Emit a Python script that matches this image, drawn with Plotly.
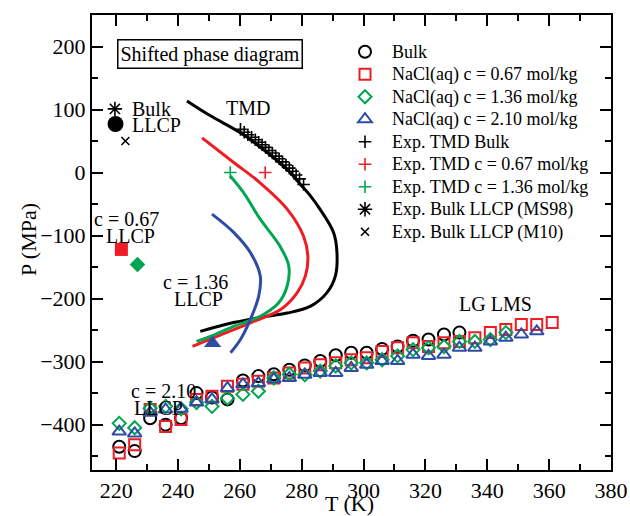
import plotly.graph_objects as go

# ---------------- data ----------------
bulk_T = [221, 226, 231, 236, 241, 246, 251, 256, 261, 266, 271, 276, 281, 286, 291, 296, 301, 306, 311, 316, 321, 326, 331]
bulk_P = [-435, -442, -390, -400, -390, -350, -357, -360, -330, -323, -320, -313, -306, -299, -290, -286, -286, -280, -276, -267, -265, -257, -254]

c067_T = [221, 226, 231, 236, 241, 246, 251, 256, 261, 266, 271, 276, 281, 286, 291, 296, 301, 306, 311, 316, 321, 326, 331, 336, 341, 346, 351, 356, 361]
c067_P = [-445, -432, -376, -403, -392, -360, -355, -339, -336, -331, -326, -318, -310, -305, -302, -297, -294, -284, -278, -270, -276, -270, -268, -262, -254, -249, -241, -241, -238]

c136_T = [221, 226, 231, 236, 241, 246, 251, 256, 261, 266, 271, 276, 281, 286, 291, 296, 301, 306, 311, 316, 321, 326, 331, 336, 341, 346]
c136_P = [-398, -405, -374, -371, -375, -365, -371, -358, -352, -347, -326, -320, -321, -315, -307, -302, -302, -297, -291, -281, -278, -276, -268, -268, -265, -254]

c210_T = [221, 226, 231, 236, 241, 246, 251, 256, 261, 266, 271, 276, 281, 286, 291, 296, 301, 306, 311, 316, 321, 326, 331, 336, 341, 346, 351, 356]
c210_P = [-411, -414, -381, -376, -375, -365, -360, -342, -336, -334, -328, -326, -321, -318, -318, -310, -305, -299, -299, -289, -291, -289, -278, -278, -268, -262, -257, -252]

# TMD curves (simulation)
tmd_bulk_T = [242.9, 250.5, 260.2, 268.8, 276.3, 279.8, 282.5, 285.9, 290.3, 291.4, 290.9, 288.1, 282.9, 275.3, 268.8, 258.0, 247.2]
tmd_bulk_P = [113.6, 90, 63, 32, 0, -20, -35, -58, -95, -127, -164, -191, -212, -223, -228, -238, -252]

tmd_067_T = [247.8, 258.0, 266.0, 275.3, 280.6, 282.0, 281.2, 278.5, 273.3, 263.6, 252.6, 244.7]
tmd_067_P = [55, 16, -14, -58, -101, -133, -164, -191, -217, -238, -260, -276]

tmd_136_T = [256.9, 261.2, 266.6, 273.0, 275.8, 275.3, 272.5, 266.6, 258.0, 250.5, 246.0]
tmd_136_P = [-5.6, -32, -74, -117, -148, -180, -207, -228, -244, -260, -268]

tmd_210_T = [251.0, 258.0, 263.4, 266.6, 266.1, 263.4, 260.2, 257.0]
tmd_210_P = [-66, -95, -127, -164, -196, -233, -265, -286]

# experimental TMD
exp_bulk_T = [260.2, 261.4, 262.6, 263.8, 265.0, 266.1, 267.2, 268.3, 269.4, 270.5, 271.6, 272.7, 273.8, 274.9, 276.0, 277.1, 278.2, 279.3, 280.6]
exp_bulk_P = [68.5, 64, 60, 56, 52, 48, 44, 40, 35, 31, 26, 22, 17, 12, 7, 2, -4, -10, -19]
exp_067_T = [268.2]
exp_067_P = [0]
exp_136_T = [256.9]
exp_136_P = [0]

# LLCP points
ms98_T, ms98_P = [219.6], [101]
m10_T, m10_P = [223.0], [50]
llcp_bulk_T, llcp_bulk_P = [219.8], [77]
llcp_067_T, llcp_067_P = [221.7], [-122]
llcp_136_T, llcp_136_P = [226.9], [-146]
llcp_210_T, llcp_210_P = [251.2], [-271]

RED = "#ee1c24"
GREEN = "#00a651"
BLUE = "#2e4ca3"
BLACK = "#000000"
FONT = "Liberation Serif"

def lg(name):
    return '<span style="font-size:18px">' + name + '</span>'

fig = go.Figure()

# curves
for T, P, col in [(tmd_bulk_T, tmd_bulk_P, BLACK), (tmd_067_T, tmd_067_P, RED),
                  (tmd_136_T, tmd_136_P, GREEN), (tmd_210_T, tmd_210_P, BLUE)]:
    fig.add_trace(go.Scatter(x=T, y=P, mode="lines", line=dict(color=col, width=3, shape="spline"),
                             showlegend=False, hoverinfo="skip"))

# LG LMS data
fig.add_trace(go.Scatter(x=bulk_T, y=bulk_P, mode="markers", name=lg("Bulk"),
                         marker=dict(symbol="circle-open", size=12, color=BLACK, line=dict(width=2, color=BLACK))))
fig.add_trace(go.Scatter(x=c067_T, y=c067_P, mode="markers", name=lg("NaCl(aq) c = 0.67 mol/kg"),
                         marker=dict(symbol="square-open", size=11, color=RED, line=dict(width=2, color=RED))))
fig.add_trace(go.Scatter(x=c136_T, y=c136_P, mode="markers", name=lg("NaCl(aq) c = 1.36 mol/kg"),
                         marker=dict(symbol="diamond-open", size=10, color=GREEN, line=dict(width=2, color=GREEN))))
fig.add_trace(go.Scatter(x=c210_T, y=c210_P, mode="markers", name=lg("NaCl(aq) c = 2.10 mol/kg"),
                         marker=dict(symbol="triangle-up-open", size=12, color=BLUE, line=dict(width=2, color=BLUE))))
fig.add_trace(go.Scatter(x=exp_bulk_T, y=exp_bulk_P, mode="markers", name=lg("Exp. TMD Bulk"),
                         marker=dict(symbol="cross-thin-open", size=9, color=BLACK, line=dict(width=1.6, color=BLACK))))
fig.add_trace(go.Scatter(x=exp_067_T, y=exp_067_P, mode="markers", name=lg("Exp. TMD c = 0.67 mol/kg"),
                         marker=dict(symbol="cross-thin-open", size=9, color=RED, line=dict(width=1.6, color=RED))))
fig.add_trace(go.Scatter(x=exp_136_T, y=exp_136_P, mode="markers", name=lg("Exp. TMD c = 1.36 mol/kg"),
                         marker=dict(symbol="cross-thin-open", size=9, color=GREEN, line=dict(width=1.6, color=GREEN))))
fig.add_trace(go.Scatter(x=ms98_T, y=ms98_P, mode="markers", name=lg("Exp. Bulk LLCP (MS98)"),
                         marker=dict(symbol="asterisk-open", size=12, color=BLACK, line=dict(width=1.6, color=BLACK))))
fig.add_trace(go.Scatter(x=m10_T, y=m10_P, mode="markers", name=lg("Exp. Bulk LLCP (M10)"),
                         marker=dict(symbol="x-thin-open", size=8, color=BLACK, line=dict(width=1.6, color=BLACK))))

# LLCP filled points
fig.add_trace(go.Scatter(x=llcp_bulk_T, y=llcp_bulk_P, mode="markers", showlegend=False,
                         marker=dict(symbol="circle", size=16, color=BLACK)))
fig.add_trace(go.Scatter(x=llcp_067_T, y=llcp_067_P, mode="markers", showlegend=False,
                         marker=dict(symbol="square", size=13, color=RED)))
fig.add_trace(go.Scatter(x=llcp_136_T, y=llcp_136_P, mode="markers", showlegend=False,
                         marker=dict(symbol="diamond", size=12, color=GREEN)))
fig.add_trace(go.Scatter(x=llcp_210_T, y=llcp_210_P, mode="markers", showlegend=False,
                         marker=dict(symbol="triangle-up", size=15, color=BLUE)))

ann_font = dict(family=FONT, size=20, color="black")
annotations = [
    dict(x=250.5, y=188, text="Shifted phase diagram", showarrow=False, font=ann_font,
         bordercolor="black", borderwidth=1.5, borderpad=2, bgcolor="white"),
    dict(x=224.5, y=101, text="Bulk", showarrow=False, xanchor="left", font=ann_font),
    dict(x=224.5, y=75, text="LLCP", showarrow=False, xanchor="left", font=ann_font),
    dict(x=262.7, y=103, text="TMD", showarrow=False, font=ann_font),
    dict(x=223.3, y=-73, text="c = 0.67", showarrow=False, font=ann_font),
    dict(x=224.6, y=-101, text="LLCP", showarrow=False, font=ann_font),
    dict(x=245.6, y=-174, text="c = 1.36", showarrow=False, font=ann_font),
    dict(x=246.6, y=-201, text="LLCP", showarrow=False, font=ann_font),
    dict(x=235.3, y=-347, text="c = 2.10", showarrow=False, font=ann_font),
    dict(x=233.7, y=-373, text="LLCP", showarrow=False, font=ann_font),
    dict(x=342.8, y=-209, text="LG LMS", showarrow=False, font=ann_font),
]
for a in annotations:
    a["xref"] = "x"
    a["yref"] = "y"

title_font = dict(family=FONT, size=22, color="black")
annotations += [
    dict(xref="paper", yref="paper", x=0.497, y=-0.074, text="T (K)", showarrow=False,
         xanchor="center", yanchor="middle", font=title_font),
    dict(xref="paper", yref="paper", x=-0.1227, y=0.506, text="P (MPa)", showarrow=False,
         textangle=-90, xanchor="center", yanchor="middle", font=title_font),
]

axis_common = dict(
    showline=True, linecolor="black", linewidth=2, mirror="allticks",
    ticks="inside", ticklen=11, tickwidth=2, tickcolor="black",
    showgrid=False, zeroline=False, automargin=False,
    tickfont=dict(family=FONT, size=22, color="black"),
)

fig.update_layout(
    width=630, height=516,
    margin=dict(l=92, r=19, t=15, b=46),
    paper_bgcolor="white", plot_bgcolor="white",
    font=dict(family=FONT, color="black"),
    xaxis=dict(range=[212.2, 380], tick0=220, dtick=20,
               minor=dict(dtick=10, ticklen=6, tickwidth=2, tickcolor="black", ticks="inside"),
               **axis_common),
    yaxis=dict(range=[-472, 250], tick0=0, dtick=100,
               minor=dict(dtick=50, ticklen=6, tickwidth=2, tickcolor="black", ticks="inside"),
               **axis_common),
    legend=dict(x=0.474, y=0.955, xanchor="left", yanchor="top", bgcolor="rgba(0,0,0,0)",
                font=dict(family=FONT, size=15, color="black"), itemwidth=44, tracegroupgap=0),
    annotations=annotations,
    showlegend=True,
)

fig.write_html("out.html")
